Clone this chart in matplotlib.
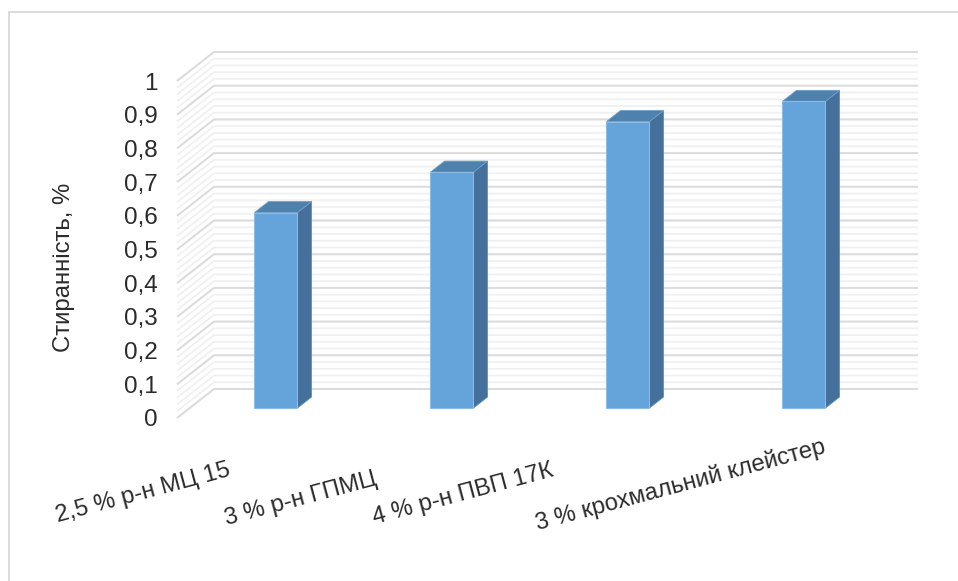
import matplotlib
matplotlib.use("Agg")
import matplotlib.pyplot as plt
from matplotlib.patches import Polygon, Rectangle

W, H = 958, 581

categories = ["2,5 % р-н МЦ 15", "3 % р-н ГПМЦ", "4 % р-н ПВП 17К", "3 % крохмальний клейстер"]
values = [0.58, 0.70, 0.85, 0.91]
y_ticks = [0, 0.1, 0.2, 0.3, 0.4, 0.5, 0.6, 0.7, 0.8, 0.9, 1]
y_labels = ["0", "0,1", "0,2", "0,3", "0,4", "0,5", "0,6", "0,7", "0,8", "0,9", "1"]
minor_ticks = [i / 50 for i in range(51) if i % 5 != 0]

plt.rcParams["font.family"] = ["Liberation Sans", "DejaVu Sans"]
TEXT = "#2b2b2b"

fig = plt.figure(figsize=(W / 100, H / 100), dpi=100)
# front edge of the floor is the axes rectangle, depth is added as an offset
left, right, bottom, top = 177, 881, 418, 81
ax = fig.add_axes([left / W, 1 - bottom / H, (right - left) / W, (bottom - top) / H])
ax.set_xlim(0, 4)
ax.set_ylim(0, 1)

DEPTH_X = 37 / 704 * 4
DEPTH_Y = 29 / 337


def project(x, y, d):
    return (x + d * DEPTH_X, y + d * DEPTH_Y)


def grid_line(v, color, lw, z):
    pts = [project(0, v, 0), project(0, v, 1), project(4, v, 1)]
    ax.plot(*zip(*pts), color=color, lw=lw, clip_on=False, zorder=z, solid_capstyle="butt")


for v in minor_ticks:
    grid_line(v, "#f0f0f0", 1.3, 1)
for v in y_ticks:
    grid_line(v, "#dcdcdc", 1.5, 2)

BAR_W = 43 / 704 * 4
D1, D2 = 10 / 29, 21 / 29

for i, v in enumerate(values):
    x0 = i + 0.5 - BAR_W / 2 - 0.01
    x1 = x0 + BAR_W
    front = [project(x0, 0, D1), project(x1, 0, D1), project(x1, v, D1), project(x0, v, D1)]
    side = [project(x1, 0, D1), project(x1, 0, D2), project(x1, v, D2), project(x1, v, D1)]
    cap = [project(x0, v, D1), project(x1, v, D1), project(x1, v, D2), project(x0, v, D2)]
    ax.add_patch(Polygon(side, fc="#44709b", ec="#5f8db8", lw=0.6, clip_on=False, zorder=3))
    ax.add_patch(Polygon(cap, fc="#4f81ad", ec="#6f9fca", lw=0.6, clip_on=False, zorder=3))
    ax.add_patch(Polygon(front, fc="#65a3db", ec="#8dbbe3", lw=0.8, clip_on=False, zorder=4))

for s in ax.spines.values():
    s.set_visible(False)
ax.set_yticks(y_ticks, y_labels, fontsize=17.5, color=TEXT)
ax.tick_params(axis="y", length=0, pad=14)
ax.set_xticks([])
ax.patch.set_alpha(0)

# category labels are slanted and end just below each bar
label_ends = [(230, 470), (376, 479), (553, 470), (825, 446)]
for name, (px, py) in zip(categories, label_ends):
    fig.text(px / W, 1 - py / H, name, rotation=15, rotation_mode="anchor", ha="right", va="center",
             fontsize=17.2, color=TEXT)

fig.text(64 / W, 1 - 267 / H, "Стиранність, %", rotation=90, ha="center", va="center",
         fontsize=17.2, color=TEXT)

# thin chart frame along the top and left
fig.add_artist(Rectangle((9 / W, -0.1), 1.1, 1 - 12 / H + 0.1, transform=fig.transFigure,
                         fill=False, ec="#d9d9d9", lw=1.3))

fig.savefig("out.png", dpi=100)
